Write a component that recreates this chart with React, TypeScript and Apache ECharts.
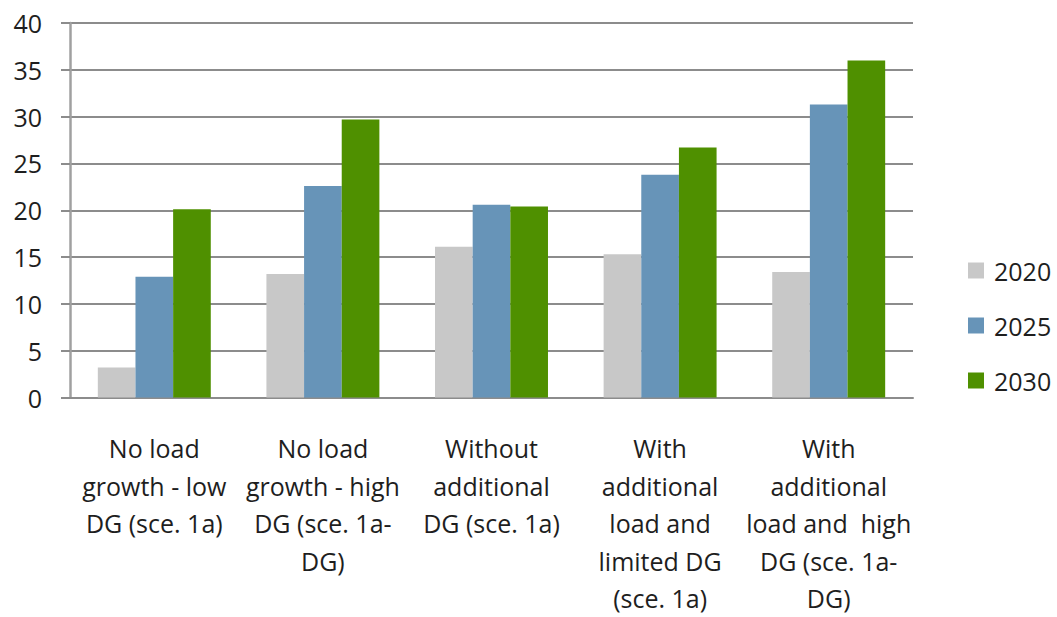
import React, { useEffect, useRef } from "react";
import * as echarts from "echarts";

const categories = [
  "No load\ngrowth - low\nDG (sce. 1a)",
  "No load\ngrowth - high\nDG (sce. 1a-\nDG)",
  "Without\nadditional\nDG (sce. 1a)",
  "With\nadditional\nload and\nlimited DG\n(sce. 1a)",
  "With\nadditional\nload and  high\nDG (sce. 1a-\nDG)",
];
const seriesNames = ["2020", "2025", "2030"];
const values2020 = [3.2, 13.2, 16.1, 15.3, 13.4];
const values2025 = [12.9, 22.6, 20.6, 23.8, 31.3];
const values2030 = [20.1, 29.7, 20.4, 26.7, 36.0];
const colors = ["#C8C8C8", "#6794B8", "#4F9000"];

export default function App() {
  const ref = useRef<HTMLDivElement>(null);
  useEffect(() => {
    document.body.style.margin = "0";
    const chart = echarts.init(ref.current!, null, { renderer: "svg" });
    const font = "'Open Sans', sans-serif";
    chart.setOption({
      animation: false,
      backgroundColor: "#ffffff",
      color: colors,
      textStyle: { fontFamily: font },
      grid: { left: 70, right: 144, top: 23, bottom: 216, containLabel: false },
      legend: {
        orient: "vertical",
        left: 963,
        top: 253,
        itemWidth: 16,
        itemHeight: 16,
        itemGap: 30,
        icon: "rect",
        textStyle: {
          fontSize: 25,
          lineHeight: 25,
          color: "#1e1e1e",
          fontFamily: font,
          padding: [0, 0, 0, 5],
        },
        data: seriesNames,
      },
      xAxis: {
        type: "category",
        data: categories,
        axisLine: { show: true, lineStyle: { color: "#8c8c8c", width: 2 } },
        axisTick: { show: false },
        axisLabel: {
          interval: 0,
          margin: 32,
          fontSize: 25,
          lineHeight: 37.5,
          color: "#1e1e1e",
          fontFamily: font,
          align: "center",
        },
      },
      yAxis: {
        type: "value",
        min: 0,
        max: 40,
        interval: 5,
        axisLine: { show: true, lineStyle: { color: "#a0a0a0", width: 2.5 } },
        axisTick: { show: true, length: 9, lineStyle: { color: "#8c8c8c", width: 2 } },
        axisLabel: { fontSize: 25, color: "#1e1e1e", margin: 28, fontFamily: font },
        splitLine: { show: true, lineStyle: { color: "#8c8c8c", width: 2 } },
      },
      series: [
        { name: seriesNames[0], type: "bar", data: values2020, barGap: "0%", barCategoryGap: "33%" },
        { name: seriesNames[1], type: "bar", data: values2025, barGap: "0%", barCategoryGap: "33%" },
        { name: seriesNames[2], type: "bar", data: values2030, barGap: "0%", barCategoryGap: "33%" },
      ],
    });
    return () => chart.dispose();
  }, []);
  return <div ref={ref} style={{ width: 1057, height: 617 }} />;
}
